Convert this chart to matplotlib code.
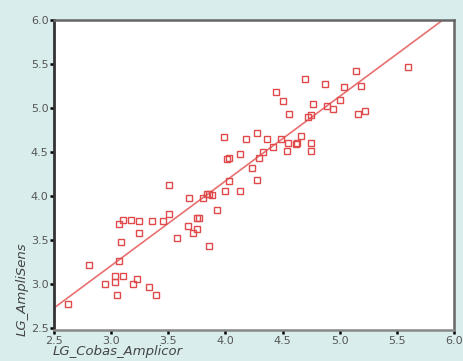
import numpy as np
import matplotlib
matplotlib.use("Agg")
import matplotlib.pyplot as plt

# values
lg_cobas = [2.62, 2.81, 2.95, 3.03, 3.03, 3.05, 3.10, 3.19, 3.23, 3.33,
            3.39, 3.07, 3.09, 3.07, 3.10, 3.17, 3.24, 3.24, 3.36, 3.45,
            3.51, 3.51, 3.58, 3.67, 3.68, 3.72, 3.75, 3.75, 3.77, 3.80,
            3.84, 3.86, 3.88, 3.86, 3.93, 4.00, 4.03, 4.13, 4.28, 4.23,
            4.03, 4.01, 4.13, 4.29, 4.33, 4.42, 4.54, 4.75, 3.99, 4.18,
            4.28, 4.36, 4.49, 4.55, 4.62, 4.63, 4.66, 4.75, 4.56, 4.72,
            4.75, 4.50, 4.44, 4.77, 4.89, 4.94, 5.00, 4.70, 4.87, 5.04,
            5.19, 5.14, 5.60, 5.16, 5.22]
lg_amplisens = [2.77, 3.22, 3.00, 3.09, 3.03, 2.875, 3.09, 3.00, 3.06, 2.97,
                2.875, 3.26, 3.48, 3.69, 3.73, 3.73, 3.72, 3.58, 3.72, 3.72,
                4.125, 3.80, 3.53, 3.66, 3.98, 3.58, 3.625, 3.75, 3.75, 3.98,
                4.03, 4.02, 4.01, 3.44, 3.84, 4.06, 4.17, 4.06, 4.18, 4.32,
                4.44, 4.42, 4.48, 4.44, 4.50, 4.56, 4.51, 4.51, 4.67, 4.65,
                4.72, 4.65, 4.65, 4.60, 4.59, 4.61, 4.68, 4.61, 4.94, 4.90,
                4.92, 5.08, 5.19, 5.05, 5.03, 4.99, 5.09, 5.33, 5.28, 5.24,
                5.25, 5.42, 5.47, 4.93, 4.97]

# regression line as drawn in the picture
fit_x0 = 2.5
fit_y0 = 2.73
fit_slope = 0.962

ticks = [2.5, 3.0, 3.5, 4.0, 4.5, 5.0, 5.5, 6.0]
tick_labels = ["2.5", "3.0", "3.5", "4.0", "4.5", "5.0", "5.5", "6.0"]

bg = "#d9eded"
red = "#e04a4a"

fig = plt.figure(figsize=(4.63, 3.61), dpi=100, facecolor=bg)
ax = fig.add_axes([0.1166, 0.0859, 0.864, 0.858])
ax.set_facecolor("white")

ax.axline((fit_x0, fit_y0), slope=fit_slope, color="#e87070", lw=1.2, zorder=2)
ax.plot(lg_cobas, lg_amplisens, linestyle="none", marker="s", markersize=4.2,
        markerfacecolor="none", markeredgecolor=red, markeredgewidth=1.0, zorder=3)

ax.set_xlim(2.5, 6.0)
ax.set_ylim(2.48, 6.0)
ax.set_xticks(ticks)
ax.set_xticklabels(tick_labels)
ax.set_yticks(ticks)
ax.set_yticklabels(tick_labels)
ax.tick_params(direction="out", length=3, width=1.8, color="black",
               labelsize=8, labelcolor="#555555", pad=1)

for side in ["top", "right"]:
    ax.spines[side].set_color("#666666")
    ax.spines[side].set_linewidth(1.8)
ax.spines["left"].set_color("#333333")
ax.spines["left"].set_linewidth(2.0)
ax.spines["bottom"].set_color("#888888")
ax.spines["bottom"].set_linewidth(1.8)

fig.text(0.047, 0.2, "LG_AmpliSens", rotation=90, ha="center", va="center",
         fontsize=9.5, style="italic", color="#444444")
fig.text(0.113, 0.008, "LG_Cobas_Amplicor", ha="left", va="bottom",
         fontsize=9.5, style="italic", color="#444444")

fig.savefig("out.png", dpi=100, facecolor=bg)
